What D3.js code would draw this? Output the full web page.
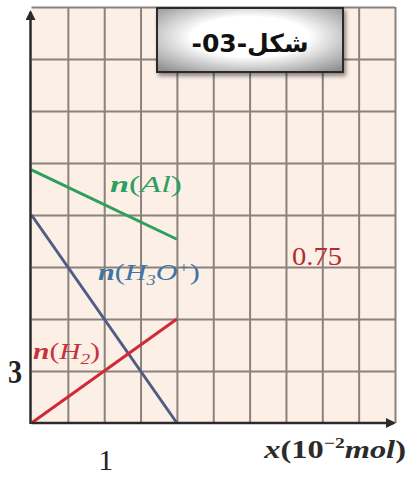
<!DOCTYPE html>
<html><head><meta charset="utf-8">
<script src="https://cdn.jsdelivr.net/npm/d3@7"></script>
<style>html,body{margin:0;padding:0;background:#fff;}svg{display:block;}</style>
</head><body>
<script>
// ---- data ----
const xVals = [0, 2];                 // x (10^-2 mol)
const nAl   = [14.6, 10.6];
const nH3O  = [12, 0];
const nH2   = [0, 6];
const xGrid = [0.5, 1, 1.5, 2, 2.5, 3, 3.5, 4, 4.5, 5];
const yGrid = [3, 6, 9, 12, 15, 18, 21, 24];
const xTickLabels = [1];
const yTickLabels = [3];
const titleText = "شكل-03-";
const valueNote = "0.75";

const W = 411, H = 479;
const svg = d3.select("body").append("svg").attr("width", W).attr("height", H);
const x = d3.scaleLinear().domain([0, 5]).range([31.5, 395]);
const y = d3.scaleLinear().domain([0, 24]).range([423, 7]);

const defs = svg.append("defs");
const rg = defs.append("radialGradient").attr("id", "boxg").attr("cx", "50%").attr("cy", "45%").attr("r", "70%");
rg.append("stop").attr("offset", "45%").attr("stop-color", "#ffffff");
rg.append("stop").attr("offset", "100%").attr("stop-color", "#8f8f8f");
const f = defs.append("filter").attr("id", "sh").attr("x", "-20%").attr("y", "-20%").attr("width", "150%").attr("height", "160%");
f.append("feDropShadow").attr("dx", 2).attr("dy", 3).attr("stdDeviation", 2).attr("flood-color", "#000").attr("flood-opacity", 0.45);
const mk = defs.append("marker").attr("id", "arr").attr("viewBox", "0 0 10 10").attr("refX", 8).attr("refY", 5)
  .attr("markerWidth", 4).attr("markerHeight", 4).attr("orient", "auto");
mk.append("path").attr("d", "M0,0 L10,5 L0,10 Z").attr("fill", "#2b2b2b");

// background
svg.append("rect").attr("x", x(0)).attr("y", y(24)).attr("width", x(5) - x(0)).attr("height", y(0) - y(24)).attr("fill", "#fcefe6");

// grid
const gridColor = "#8a827c";
svg.append("g").attr("transform", `translate(0,${y(0)})`)
  .call(d3.axisBottom(x).tickValues(xGrid).tickSize(-(y(0) - y(24))).tickFormat(""))
  .call(g => g.select(".domain").remove())
  .call(g => g.selectAll("line").attr("stroke", gridColor).attr("stroke-width", 2));
svg.append("g").attr("transform", `translate(${x(0)},0)`)
  .call(d3.axisLeft(y).tickValues(yGrid).tickSize(-(x(5) - x(0))).tickFormat(""))
  .call(g => g.select(".domain").remove())
  .call(g => g.selectAll("line").attr("stroke", gridColor).attr("stroke-width", 2));

// series lines
const line = d3.line().x(d => x(d[0])).y(d => y(d[1]));
const series = [
  {vals: nAl, color: "#2f9e5e"},
  {vals: nH3O, color: "#4f5c86"},
  {vals: nH2, color: "#d12a36"}
];
series.forEach(s => {
  svg.append("path").datum(xVals.map((v, i) => [v, s.vals[i]]))
    .attr("d", line).attr("fill", "none").attr("stroke", s.color).attr("stroke-width", 3);
});

// axes with arrows
svg.append("line").attr("x1", x(0)).attr("y1", y(0)).attr("x2", x(5) - 1).attr("y2", y(0))
  .attr("stroke", "#2b2b2b").attr("stroke-width", 2.5).attr("marker-end", "url(#arr)");
svg.append("line").attr("x1", x(0) - 1).attr("y1", y(0) + 1).attr("x2", x(0) - 1).attr("y2", 12)
  .attr("stroke", "#2b2b2b").attr("stroke-width", 2.5).attr("marker-end", "url(#arr)");

// fit text horizontally into [x0, x1] keeping baseline
function fit(t, x0, x1) {
  const b = t.node().getBBox();
  const s = (x1 - x0) / b.width;
  const tx = x0 - b.x * s;
  t.attr("transform", `translate(${tx},0) scale(${s},1)`);
}

// tick labels
svg.selectAll("text.xt").data(xTickLabels).join("text").attr("class", "xt")
  .attr("x", 0).attr("y", 470)
  .attr("font-family", "Liberation Serif, serif").attr("font-size", 30).attr("fill", "#222").text(d => d)
  .each(function(d) { fit(d3.select(this), x(d) - 6, x(d) + 9); });
svg.selectAll("text.yt").data(yTickLabels).join("text").attr("class", "yt")
  .attr("x", 0).attr("y", d => y(d) + 12)
  .attr("font-family", "Liberation Serif, serif").attr("font-weight", "bold").attr("font-size", 34).attr("fill", "#222").text(d => d)
  .each(function() { fit(d3.select(this), 8, 22); });

// series labels
const lab = (ty, color, fs, parts, x0, x1) => {
  const t = svg.append("text").attr("x", 0).attr("y", ty).attr("font-family", "Liberation Serif, serif")
    .attr("font-size", fs).attr("fill", color);
  parts.forEach(p => {
    const ts = t.append("tspan").text(p.t).attr("font-style", p.it === false ? "normal" : "italic");
    if (p.b) ts.attr("font-weight", "bold");
    if (p.dy) ts.attr("dy", p.dy);
    if (p.fs) ts.attr("font-size", p.fs);
  });
  fit(t, x0, x1);
  return t;
};
lab(192, "#2f9e5e", 24, [{t: "n", b: true}, {t: "(", it: false}, {t: "Al"}, {t: ")", it: false}], 110, 182);
lab(280, "#3f74a3", 23, [{t: "n", b: true}, {t: "(", it: false}, {t: "H"}, {t: "3", dy: 5, fs: 14}, {t: "O", dy: -5}, {t: "+", dy: -8, fs: 14}, {t: ")", dy: 8, it: false}], 98, 200);
lab(359, "#c8323c", 23, [{t: "n", b: true}, {t: "(", it: false}, {t: "H"}, {t: "2", dy: 5, fs: 15}, {t: ")", dy: -5, it: false}], 33, 100);

// 0.75
const vn = svg.append("text").attr("x", 0).attr("y", 265).attr("font-family", "Liberation Serif, serif")
  .attr("font-size", 26).attr("fill", "#b52a33").text(valueNote);
fit(vn, 292, 342);

// x axis label
const xl = svg.append("text").attr("x", 0).attr("y", 458).attr("font-family", "Liberation Serif, serif")
  .attr("font-size", 25).attr("font-weight", "bold").attr("fill", "#2b2b2b");
xl.append("tspan").text("x").attr("font-style", "italic");
xl.append("tspan").text("(10");
xl.append("tspan").text("−2").attr("font-size", 15).attr("dy", -10);
xl.append("tspan").text("mol").attr("font-style", "italic").attr("dy", 10);
xl.append("tspan").text(")");
fit(xl, 263, 406);

// title box
svg.append("rect").attr("x", 157).attr("y", 8).attr("width", 186).attr("height", 64)
  .attr("fill", "url(#boxg)").attr("stroke", "#2a2a2a").attr("stroke-width", 2).attr("filter", "url(#sh)");
svg.append("text").attr("x", 250).attr("y", 52).attr("text-anchor", "middle").attr("direction", "rtl")
  .attr("font-family", "DejaVu Sans, sans-serif").attr("font-weight", "bold").attr("font-size", 25)
  .attr("fill", "#111").text(titleText);
</script>
</body></html>
